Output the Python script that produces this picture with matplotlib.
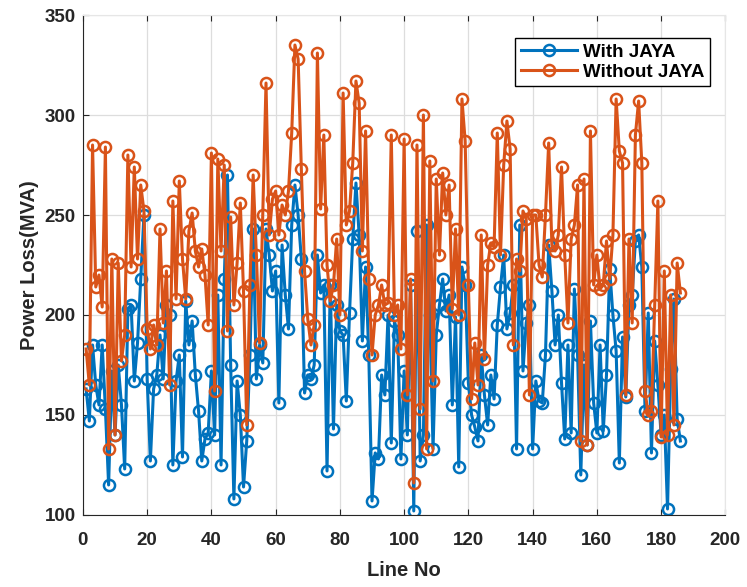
import matplotlib
matplotlib.use("Agg")
import matplotlib.pyplot as plt
import numpy as np

plt.rcParams['font.family'] = ['Liberation Sans', 'DejaVu Sans']
plt.rcParams['font.weight'] = 'bold'

with_jaya = [
    163, 147, 185, 165, 155, 185, 153, 115, 172, 140,
    175, 155, 123, 203, 205, 167, 186, 218, 250, 168,
    127, 163, 170, 190, 168, 205, 200, 125, 167, 180,
    129, 207, 185, 197, 170, 152, 127, 138, 141, 172,
    140, 210, 125, 218, 270, 175, 108, 167, 150, 114,
    137, 180, 243, 168, 185, 176, 243, 230, 212, 222,
    156, 235, 210, 193, 245, 265, 250, 228, 161, 170,
    168, 175, 230, 211, 215, 122, 215, 143, 205, 192,
    190, 157, 201, 238, 266, 240, 187, 224, 180, 107,
    131, 128, 170, 160, 200, 136, 197, 190, 128, 172,
    140, 215, 102, 242, 127, 140, 245, 200, 133, 190,
    205, 218, 202, 210, 155, 199, 124, 224, 215, 166,
    150, 144, 137, 180, 160, 145, 170, 158, 195, 214,
    230, 193, 201, 215, 133, 245, 172, 196, 205, 133,
    167, 157, 156, 180, 235, 212, 185, 200, 166, 138,
    185, 141, 213, 180, 120, 175, 135, 197, 156, 141,
    185, 142, 170, 223, 200, 182, 126, 189, 159, 205,
    210, 237, 240, 224, 152, 201, 131, 187, 165, 140,
    150, 103, 173, 208, 148, 137,
]

without_jaya = [
    183, 165, 285, 214, 220, 204, 284, 133, 228, 140,
    226, 177, 190, 280, 224, 274, 228, 265, 252, 193,
    183, 195, 185, 243, 196, 222, 165, 257, 208, 267,
    228, 208, 242, 251, 232, 224, 233, 220, 195, 281,
    162, 278, 232, 275, 192, 249, 205, 226, 256, 212,
    145, 215, 270, 230, 186, 250, 316, 240, 258, 262,
    240, 255, 250, 262, 291, 335, 328, 273, 222, 198,
    185, 195, 331, 253, 290, 225, 207, 215, 238, 200,
    311, 245, 252, 276, 317, 306, 232, 292, 218, 180,
    200, 205, 215, 205, 206, 290, 200, 205, 183, 288,
    160, 218, 116, 285, 153, 300, 133, 277, 167, 268,
    230, 271, 250, 265, 203, 243, 200, 308, 287, 215,
    158, 186, 165, 240, 178, 225, 236, 234, 291, 230,
    275, 297, 283, 185, 228, 222, 252, 248, 160, 250,
    250, 225, 219, 250, 286, 235, 232, 240, 274, 230,
    196, 238, 245, 265, 137, 268, 135, 292, 215, 230,
    213, 215, 237, 218, 240, 308, 282, 276, 160, 238,
    196, 290, 307, 276, 162, 150, 152, 205, 257, 139,
    222, 140, 210, 145, 226, 211,
]

line_no = np.arange(1, len(with_jaya) + 1)
x_ticks = list(range(0, 201, 20))
y_ticks = list(range(100, 351, 50))

fig = plt.figure(figsize=(7.47, 5.87), dpi=100)
ax = fig.add_axes([0.111, 0.1227, 0.860, 0.8517])

blue = '#0072BD'
orange = '#D95319'
ax.plot(line_no, with_jaya, '-o', color=blue, lw=2.2, ms=8, mfc='none',
        mew=1.8, label='With JAYA')
ax.plot(line_no[:len(without_jaya)], without_jaya, '-o', color=orange, lw=2.2, ms=8,
        mfc='none', mew=1.8, label='Without JAYA')

ax.set_xlim(0, 200)
ax.set_ylim(100, 350)
ax.set_xticks(x_ticks)
ax.set_yticks(y_ticks)
ax.tick_params(direction='in', labelsize=13.5, colors='#262626', length=4,
               top=True, right=False)
ax.tick_params(axis='x', pad=12)
ax.tick_params(axis='y', pad=5)
for lab in ax.get_xticklabels() + ax.get_yticklabels():
    lab.set_fontweight('bold')
ax.grid(True, color='#DDDDDD', lw=0.9)
ax.set_axisbelow(True)
for s in ['left', 'bottom']:
    ax.spines[s].set_color('#262626')
for s in ['top', 'right']:
    ax.spines[s].set_color('#E6E6E6')

ax.set_xlabel('Line No', fontsize=14.5, fontweight='bold', color='#262626', labelpad=9)
ax.set_ylabel('Power Loss(MVA)', fontsize=14.5, fontweight='bold', color='#262626', labelpad=4)

leg = ax.legend(loc='upper right', bbox_to_anchor=(0.99, 0.973),
                prop={'weight': 'bold', 'size': 13.5}, fancybox=False, framealpha=1,
                edgecolor='black', borderpad=0.3, handlelength=3.0, handletextpad=0.3,
                labelspacing=0.15)
leg.get_frame().set_linewidth(1.0)

fig.savefig('out.png', dpi=100)
